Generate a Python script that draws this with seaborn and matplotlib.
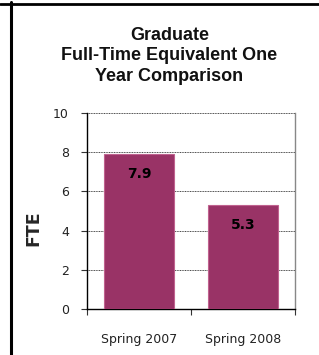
import matplotlib
matplotlib.use("Agg")
import matplotlib.pyplot as plt
import seaborn as sns
import pandas as pd
from matplotlib.lines import Line2D

categories = ["Spring 2007", "Spring 2008"]
fte_values = [7.9, 5.3]
value_labels = ["7.9", "5.3"]
y_ticks = [0, 2, 4, 6, 8, 10]
title_text = "Graduate\nFull-Time Equivalent One\nYear Comparison"
y_label = "FTE"

sns.set_theme(style="white")
plt.rcParams['font.family'] = ['DejaVu Sans']

W, H = 319, 355
fig = plt.figure(figsize=(W / 100, H / 100), dpi=100)
fig.patch.set_facecolor("white")

ax = fig.add_axes([87 / W, 1 - 309 / H, 208 / W, 196 / H])
df = pd.DataFrame({"cat": categories, "val": fte_values})
sns.barplot(data=df, x="cat", y="val", color="#993366", saturation=1,
            width=0.67, edgecolor="#c0628f", linewidth=0.8, ax=ax, zorder=3)

ax.set_ylim(0, 10)
ax.set_xlim(-0.5, 1.5)
ax.set_yticks(y_ticks)
ax.set_yticklabels([str(t) for t in y_ticks], fontsize=9, color="#222222")
ax.yaxis.grid(True, linestyle=(0, (1.0, 0.7)), color="#444444", linewidth=0.7, zorder=0)
ax.xaxis.grid(False)
ax.set_xlabel("")
ax.set_ylabel(y_label, fontsize=12.5, fontweight="bold", family="DejaVu Sans")
ax.yaxis.set_label_coords(-0.215, 0.41)

ax.tick_params(axis="y", direction="out", length=4, width=0.8, color="#333333",
               pad=9, left=True)
ax.set_xticks(range(len(categories)))
ax.set_xticklabels(categories, fontsize=9, color="#222222")
ax.tick_params(axis="x", which="major", length=0, pad=17)
ax.set_xticks([-0.5, 0.5, 1.5], minor=True)
ax.tick_params(axis="x", which="minor", direction="out", length=4, width=0.8,
               color="#333333", bottom=True)

for side in ["left", "bottom"]:
    ax.spines[side].set_color("black")
    ax.spines[side].set_linewidth(1.0)
ax.spines["top"].set_visible(False)
ax.spines["right"].set_color("#888888")
ax.spines["right"].set_linewidth(1.0)

for i, (v, lab) in enumerate(zip(fte_values, value_labels)):
    ax.annotate(lab, xy=(i, v), xytext=(0, -14), textcoords="offset points",
                ha="center", va="center", fontsize=10, fontweight="bold",
                color="black", zorder=5)

fig.text(169.5 / W, 1 - 56 / H, title_text, ha="center", va="center",
         fontsize=13, fontweight="bold", family="Liberation Sans",
         linespacing=1.25, color="#111111")

fig.add_artist(Line2D([0, 1], [1 - 3.5 / H, 1 - 3.5 / H], transform=fig.transFigure,
                      color="black", linewidth=2.0))
fig.add_artist(Line2D([11 / W, 11 / W], [0, 1 - 2 / H], transform=fig.transFigure,
                      color="black", linewidth=2.2))

fig.savefig("out.png", dpi=100)
